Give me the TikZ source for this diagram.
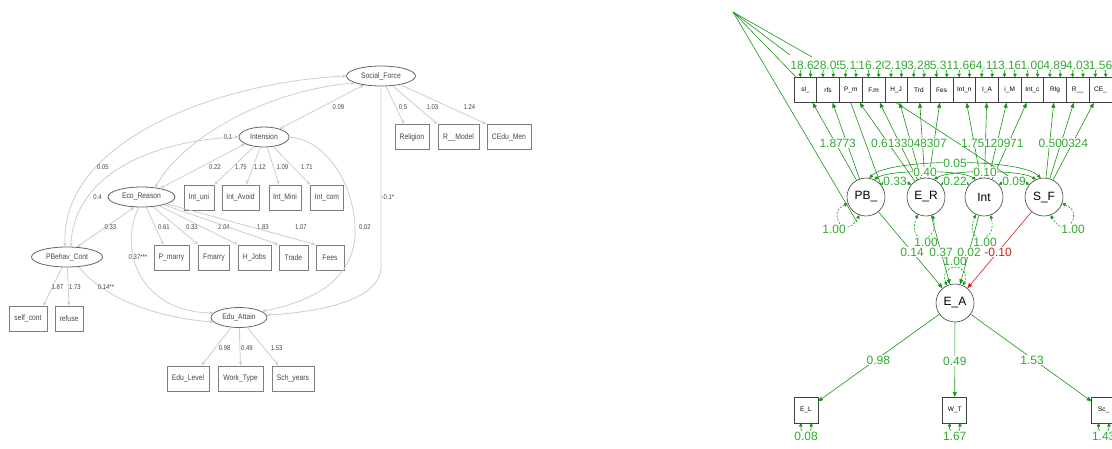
\documentclass[tikz,border=0pt]{standalone}
\usepackage{fontspec}
\setmainfont{Liberation Sans}
\newfontfamily\narrowsf[FakeStretch=0.85]{Liberation Sans}
\usetikzlibrary{shapes.geometric,arrows.meta,positioning}
\definecolor{lngray}{RGB}{205,205,205}
\definecolor{boxgray}{RGB}{125,125,125}
\definecolor{txtgray}{RGB}{70,70,70}
\definecolor{semgreen}{RGB}{20,150,20}
\definecolor{lblgreen}{RGB}{50,170,50}
\definecolor{semred}{RGB}{210,30,30}
\begin{document}
\begin{tikzpicture}[x=1pt, y=-1pt,
    lat/.style={ellipse, draw=boxgray!80!black, line width=0.8pt, minimum height=20pt, inner sep=0pt, text=txtgray, font=\fontsize{8}{9}\narrowsf},
    obs/.style={rectangle, draw=boxgray, line width=0.9pt, minimum height=25pt, inner sep=1pt, text=txtgray, font=\fontsize{8}{9}\narrowsf},
    lbl/.style={text=txtgray, inner sep=0pt, font=\fontsize{7}{8}\narrowsf},
    ln/.style={draw=lngray, line width=0.8pt, -{Stealth[length=4pt,width=3.5pt]}},
    dbl/.style={{Stealth[length=4pt,width=3.5pt]}-{Stealth[length=4pt,width=3.5pt]}},
    ind/.style={rectangle, draw=black!75, line width=0.6pt, minimum width=22.7pt, minimum height=25.4pt, inner sep=0pt, outer sep=0pt, font=\fontsize{6.5}{7}\selectfont},
    circ/.style={circle, draw=black!75, line width=0.6pt, minimum size=38pt, inner sep=0pt, font=\fontsize{12}{13}\selectfont},
    load/.style={draw=semgreen, line width=0.6pt, -{Triangle[length=5pt,width=4pt]}},
    cov/.style={draw=semgreen, line width=0.6pt, {Triangle[length=3.5pt,width=3.5pt]}-{Triangle[length=3.5pt,width=3.5pt]}},
    vloop/.style={cov, dash pattern=on 2pt off 1.5pt},
    fan/.style={draw=semgreen, line width=0.6pt},
    neg/.style={draw=semred, line width=0.6pt, -{Triangle[length=5pt,width=4pt]}},
    glbl/.style={text=lblgreen, fill=white, inner sep=0.3pt, font=\fontsize{12}{12}\selectfont},
    rlbl/.style={glbl, text=semred}]
\useasboundingbox (0,0) rectangle (1112,448);

% left model
\node(SocialForce) [lat, minimum width=69pt] at (381,76) {Social\_Force};
\node(Intension) [lat, minimum width=50pt] at (264,137) {Intension};
\node(EcoReason) [lat, minimum width=67pt] at (141.5,197) {Eco\_Reason};
\node(PBehavCont) [lat, minimum width=71pt] at (67,257) {PBehav\_Cont};
\node(EduAttain) [lat, minimum width=56pt] at (239,317.5) {Edu\_Attain};
\node(Religion) [obs, minimum width=34pt] at (412,137) {Religion};
\node(RModel) [obs, minimum width=41pt] at (458.5,137) {R\_\_Model};
\node(CEduMen) [obs, minimum width=44pt] at (509,137) {CEdu\_Men};
\node(IntUni) [obs, minimum width=30pt] at (199,197.5) {Int\_uni};
\node(IntAvoid) [obs, minimum width=37pt] at (240.5,197.5) {Int\_Avoid};
\node(IntMini) [obs, minimum width=32pt] at (285,197.5) {Int\_Mini};
\node(IntCom) [obs, minimum width=33pt] at (327,197.5) {Int\_com};
\node(PMarry) [obs, minimum width=35pt] at (171.5,257.5) {P\_marry};
\node(FMarry) [obs, minimum width=31pt] at (214,257.5) {Fmarry};
\node(HJobs) [obs, minimum width=33pt] at (254.5,257.5) {H\_Jobs};
\node(Trade) [obs, minimum width=29pt] at (293.5,257.5) {Trade};
\node(Fees) [obs, minimum width=28pt] at (330,257.5) {Fees};
\node(SelfCont) [obs, minimum width=38pt] at (28,318.5) {self\_cont};
\node(Refuse) [obs, minimum width=28pt] at (69,318.5) {refuse};
\node(EduLevel) [obs, minimum width=42pt] at (188,378.5) {Edu\_Level};
\node(WorkType) [obs, minimum width=45pt] at (240.5,378.5) {Work\_Type};
\node(SchYears) [obs, minimum width=42pt] at (293,378.5) {Sch\_years};

\draw[ln] (SocialForce) -- ([xshift=-8pt]Religion.north) node[lbl] at (403,107) {0.5};
\draw[ln] (SocialForce) -- (RModel.north west) node[lbl] at (432.5,107) {1.03};
\draw[ln] (SocialForce) -- (CEduMen.north west) node[lbl] at (469.5,107) {1.24};
\draw[ln, dbl] (SocialForce) -- (Intension) node[lbl] at (338.5,107) {0.09};
\draw[ln, dbl] (SocialForce.180) .. controls (220,82) and (60,140) .. (PBehavCont.100) node[lbl] at (103,167) {0.05};
\draw[ln, dbl] (SocialForce.195) .. controls (270,90) and (185,135) .. (EcoReason.35) node[lbl] at (228,137) {0.1};
\draw[ln, dbl] (Intension.west) .. controls (160,140) and (75,170) .. (PBehavCont.70) node[lbl] at (97.6,197) {0.4};
\draw[ln, dbl] (Intension.200) -- (EcoReason.25) node[lbl] at (215,167) {0.22};
\draw[ln, dbl] (EcoReason.235) -- (PBehavCont.45) node[lbl] at (110.5,227) {0.33};
\draw[ln] (SocialForce.south) -- (381,267) .. controls (381,300) and (320,312) .. (EduAttain.5) node[lbl] at (388,197) {-0.1*};
\draw[ln] (Intension.east) .. controls (325,140) and (352,180) .. (355,225) .. controls (358,275) and (320,300) .. (EduAttain.15) node[lbl] at (365,227) {0.02};
\draw[ln] (EcoReason.255) .. controls (118,250) and (140,312) .. (EduAttain.170) node[lbl] at (138,257) {0.37***};
\draw[ln] (PBehavCont.320) .. controls (105,300) and (160,318) .. (EduAttain.190) node[lbl] at (106,287) {0.14**};
\draw[ln] (Intension) -- (IntUni.north east) node[lbl] at (241,167) {1.75};
\draw[ln] (Intension) -- ([xshift=6pt]IntAvoid.north) node[lbl] at (260,167) {1.12};
\draw[ln] (Intension) -- ([xshift=-6pt]IntMini.north) node[lbl] at (282.5,167) {1.09};
\draw[ln] (Intension) -- (IntCom.north west) node[lbl] at (307,167) {1.71};
\draw[ln] (EcoReason) -- ([xshift=-8pt]PMarry.north) node[lbl] at (164,227) {0.61};
\draw[ln] (EcoReason) -- (FMarry.north west) node[lbl] at (192,227) {0.33};
\draw[ln] (EcoReason) -- (HJobs.north west) node[lbl] at (224,227) {2.04};
\draw[ln] (EcoReason) -- (Trade.north west) node[lbl] at (263,227) {1.83};
\draw[ln] (EcoReason) -- (Fees.north west) node[lbl] at (301,227) {1.07};
\draw[ln] (PBehavCont) -- ([xshift=-4pt]SelfCont.north east) node[lbl] at (57.4,287) {1.87};
\draw[ln] (PBehavCont) -- (Refuse.north) node[lbl] at (75,287) {1.73};
\draw[ln] (EduAttain) -- ([xshift=-8pt]EduLevel.north east) node[lbl] at (224.7,348) {0.98};
\draw[ln] (EduAttain) -- (WorkType.north) node[lbl] at (247,348) {0.49};
\draw[ln] (EduAttain) -- ([xshift=7pt]SchYears.north west) node[lbl] at (276.7,348) {1.53};

% right model
\node(sl) [ind] at (805.4,90) {sl\_};
\node(rfs) [ind, right=0pt of sl] {rfs};
\node(Pm) [ind, right=0pt of rfs] {P\_m};
\node(Fm) [ind, right=0pt of Pm] {F.m};
\node(HJ) [ind, right=0pt of Fm] {H\_J};
\node(Trd) [ind, right=0pt of HJ] {Trd};
\node(Fes) [ind, right=0pt of Trd] {Fes};
\node(Intn) [ind, right=0pt of Fes] {Int\_n};
\node(IA) [ind, right=0pt of Intn] {I\_A};
\node(iM) [ind, right=0pt of IA] {i\_M};
\node(Intc) [ind, right=0pt of iM] {Int\_c};
\node(Rlg) [ind, right=0pt of Intc] {Rlg};
\node(Rdd) [ind, right=0pt of Rlg] {R\_\_};
\node(CE) [ind, right=0pt of Rdd] {CE\_};
\node(PBr) [circ] at (866,197) {PB\_};
\node(ERr) [circ] at (926,197) {E\_R};
\node(Intr) [circ] at (984,197) {Int};
\node(SFr) [circ] at (1044,197) {S\_F};
\node(EAr) [circ] at (955,303) {E\_A};
\node(EL) [ind, minimum width=24pt, minimum height=26pt] at (806,410) {E\_L};
\node(WT) [ind, minimum width=24pt, minimum height=26pt] at (954.7,410) {W\_T};
\node(Sc) [ind, minimum width=24pt, minimum height=26pt] at (1103.7,410) {Sc\_};

\coordinate (apex) at (733,12);
\coordinate (fanA) at (790,55);
\coordinate (fanB) at (812,57);
\coordinate (fanC) at (797,78);
\coordinate (fanD) at (857,222);
\coordinate (crossEnd) at (1013,179);
\draw[fan] (apex) -- (fanA);
\draw[fan] (apex) -- (fanB);
\draw[fan] (apex) -- (fanC);
\draw[fan] (apex) -- (fanD);
\draw[fan] (Pm.south) -- (PBr.40);
\draw[fan] (HJ.south) -- (crossEnd);

% residuals of the indicators
\draw[cov] ([xshift=-5pt]sl.north) .. controls +(-1,-12) and +(1,-12) .. ([xshift=5pt]sl.north) node[glbl] at ([yshift=12pt]sl.north) {18.62};
\draw[cov] ([xshift=-5pt]rfs.north) .. controls +(-1,-12) and +(1,-12) .. ([xshift=5pt]rfs.north) node[glbl] at ([yshift=12pt]rfs.north) {28.05};
\draw[cov] ([xshift=-5pt]Pm.north) .. controls +(-1,-12) and +(1,-12) .. ([xshift=5pt]Pm.north) node[glbl] at ([yshift=12pt]Pm.north) {5.11};
\draw[cov] ([xshift=-5pt]Fm.north) .. controls +(-1,-12) and +(1,-12) .. ([xshift=5pt]Fm.north) node[glbl] at ([yshift=12pt]Fm.north) {16.20};
\draw[cov] ([xshift=-5pt]HJ.north) .. controls +(-1,-12) and +(1,-12) .. ([xshift=5pt]HJ.north) node[glbl] at ([yshift=12pt]HJ.north) {2.19};
\draw[cov] ([xshift=-5pt]Trd.north) .. controls +(-1,-12) and +(1,-12) .. ([xshift=5pt]Trd.north) node[glbl] at ([yshift=12pt]Trd.north) {3.28};
\draw[cov] ([xshift=-5pt]Fes.north) .. controls +(-1,-12) and +(1,-12) .. ([xshift=5pt]Fes.north) node[glbl] at ([yshift=12pt]Fes.north) {5.31};
\draw[cov] ([xshift=-5pt]Intn.north) .. controls +(-1,-12) and +(1,-12) .. ([xshift=5pt]Intn.north) node[glbl] at ([yshift=12pt]Intn.north) {1.66};
\draw[cov] ([xshift=-5pt]IA.north) .. controls +(-1,-12) and +(1,-12) .. ([xshift=5pt]IA.north) node[glbl] at ([yshift=12pt]IA.north) {4.11};
\draw[cov] ([xshift=-5pt]iM.north) .. controls +(-1,-12) and +(1,-12) .. ([xshift=5pt]iM.north) node[glbl] at ([yshift=12pt]iM.north) {3.16};
\draw[cov] ([xshift=-5pt]Intc.north) .. controls +(-1,-12) and +(1,-12) .. ([xshift=5pt]Intc.north) node[glbl] at ([yshift=12pt]Intc.north) {1.00};
\draw[cov] ([xshift=-5pt]Rlg.north) .. controls +(-1,-12) and +(1,-12) .. ([xshift=5pt]Rlg.north) node[glbl] at ([yshift=12pt]Rlg.north) {4.89};
\draw[cov] ([xshift=-5pt]Rdd.north) .. controls +(-1,-12) and +(1,-12) .. ([xshift=5pt]Rdd.north) node[glbl] at ([yshift=12pt]Rdd.north) {4.03};
\draw[cov] ([xshift=-5pt]CE.north) .. controls +(-1,-12) and +(1,-12) .. ([xshift=5pt]CE.north) node[glbl] at ([yshift=12pt]CE.north) {1.56};
\draw[cov] ([xshift=-5pt]EL.south) .. controls +(-1,12) and +(1,12) .. ([xshift=5pt]EL.south) node[glbl] at ([yshift=-13pt]EL.south) {0.08};
\draw[cov] ([xshift=-5pt]WT.south) .. controls +(-1,12) and +(1,12) .. ([xshift=5pt]WT.south) node[glbl] at ([yshift=-13pt]WT.south) {1.67};
\draw[cov] ([xshift=-5pt]Sc.south) .. controls +(-1,12) and +(1,12) .. ([xshift=5pt]Sc.south) node[glbl] at ([yshift=-13pt]Sc.south) {1.43};

% loadings
\draw[load] (SFr) -- (CE) node[glbl] at (1076.4,143) {1.24};
\draw[load] (SFr) -- (Rdd) node[glbl] at (1063.4,143) {1.03};
\draw[load] (SFr) -- (Rlg) node[glbl] at (1050.4,143) {0.50};
\draw[load] (Intr) -- (Intc) node[glbl] at (1011.8,143) {1.71};
\draw[load] (Intr) -- (iM) node[glbl] at (998.8,143) {1.09};
\draw[load] (Intr) -- (IA) node[glbl] at (985.7,143) {1.12};
\draw[load] (Intr) -- (Intn) node[glbl] at (972.7,143) {1.75};
\draw[load] (ERr) -- (Fes) node[glbl] at (935.0,143) {1.07};
\draw[load] (ERr) -- (Trd) node[glbl] at (921.9,143) {1.83};
\draw[load] (ERr) -- (HJ) node[glbl] at (908.9,143) {2.04};
\draw[load] (ERr) -- (Fm) node[glbl] at (895.9,143) {0.33};
\draw[load] (ERr) -- (Pm) node[glbl] at (882.8,143) {0.61};
\draw[load] (PBr) -- (rfs) node[glbl] at (844.2,143) {1.73};
\draw[load] (PBr) -- (sl) node[glbl] at (831.2,143) {1.87};

% covariances and variances of the latents
\draw[cov] (PBr.80) .. controls +(20,-20) and +(-20,-20) .. (SFr.100) node[glbl] at (955,163) {0.05};
\draw[cov] (PBr.65) .. controls +(15,-10) and +(-15,-10) .. (Intr.115) node[glbl] at (925,172) {0.40};
\draw[cov] (ERr.65) .. controls +(15,-10) and +(-15,-10) .. (SFr.115) node[glbl] at (985,172) {0.10};
\draw[cov] (PBr.40) .. controls +(12,-6) and +(-12,-6) .. (ERr.140) node[glbl] at (895,181) {0.33};
\draw[cov] (ERr.40) .. controls +(12,-6) and +(-12,-6) .. (Intr.140) node[glbl] at (955,181) {0.22};
\draw[cov] (Intr.40) .. controls +(12,-6) and +(-12,-6) .. (SFr.140) node[glbl] at (1014,181) {0.09};
\draw[vloop] (PBr.200) .. controls (826,212) and (845,242) .. (PBr.250) node[glbl] at (834,229) {1.00};
\draw[vloop] (ERr.245) .. controls (905,245) and (940,245) .. (ERr.290) node[glbl] at (926,242) {1.00};
\draw[vloop] (Intr.245) .. controls (963,245) and (998,245) .. (Intr.290) node[glbl] at (985,242) {1.00};
\draw[vloop] (SFr.340) .. controls (1085,212) and (1066,242) .. (SFr.290) node[glbl] at (1073,229) {1.00};
\draw[vloop] (EAr.115) .. controls (938,262) and (972,262) .. (EAr.65) node[glbl] at (955,261) {1.00};

% regressions
\draw[load] (PBr) -- (EAr) node[glbl] at (912,252) {0.14};
\draw[load] (ERr) -- (EAr) node[glbl] at (941,252) {0.37};
\draw[load] (Intr) -- (EAr) node[glbl] at (969,252) {0.02};
\draw[neg] (SFr) -- (EAr) node[rlbl] at (998,252) {-0.10};
\draw[load] (EAr) -- (EL) node[glbl] at (878.3,360) {0.98};
\draw[load] (EAr) -- (WT) node[glbl] at (954.8,361) {0.49};
\draw[load] (EAr) -- (Sc) node[glbl] at (1032,360) {1.53};
\end{tikzpicture}
\end{document}
